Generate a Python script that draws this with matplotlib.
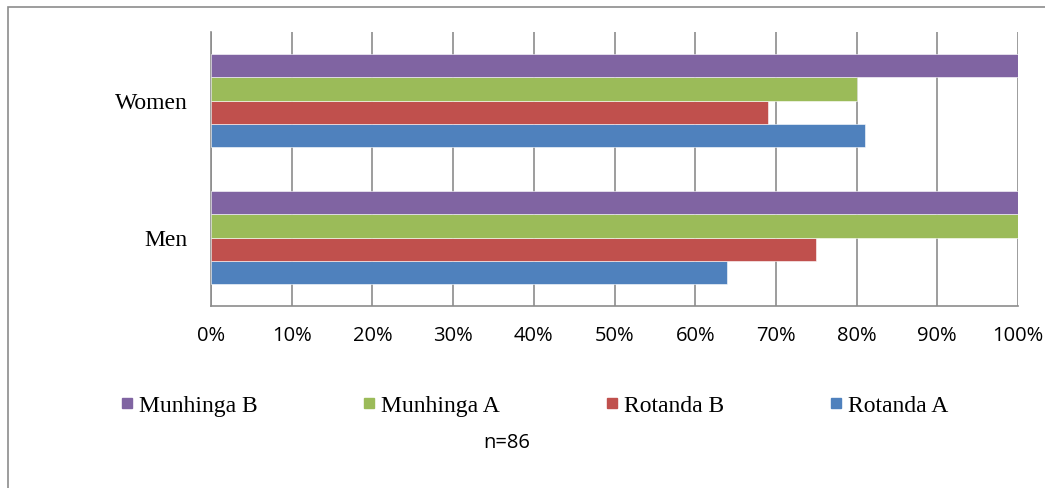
import matplotlib
matplotlib.use("Agg")
import matplotlib.pyplot as plt
from matplotlib.lines import Line2D
from matplotlib.patches import Rectangle
import numpy as np

# Data
categories = ["Men", "Women"]
series_names = ["Rotanda A", "Rotanda B", "Munhinga A", "Munhinga B"]
rotanda_a = [64, 81]
rotanda_b = [75, 69]
munhinga_a = [100, 80]
munhinga_b = [100, 100]
x_ticks = [0, 10, 20, 30, 40, 50, 60, 70, 80, 90, 100]
tick_labels = [f"{t}%" for t in x_ticks]
note = "n=86"

values = [rotanda_a, rotanda_b, munhinga_a, munhinga_b]
colors = ["#4F81BD", "#C0504D", "#9BBB59", "#8064A2"]

W, H = 1045, 489
fig = plt.figure(figsize=(W / 100, H / 100), dpi=100)
fig.patch.set_facecolor("white")

ax = fig.add_axes([211 / W, 1 - 307 / H, (1018 - 211) / W, (307 - 33) / H])

grid_color = "#8C8C8C"
n = len(series_names)
group_width = 0.686
bar_h = group_width / n
y = np.arange(len(categories))
for i, (name, vals, col) in enumerate(zip(series_names, values, colors)):
    offset = (i - (n - 1) / 2) * bar_h
    ax.barh(y + offset, vals, height=bar_h, color=col, edgecolor="white",
            linewidth=0.4, label=name, zorder=3)

ax.set_xlim(0, 100)
ax.set_ylim(-0.5, 1.5)
ax.set_xticks(x_ticks)
ax.set_xticklabels(tick_labels, fontsize=14.5, family="Open Sans")
ax.set_yticks(y)
ax.set_yticklabels(categories, fontsize=17, family="Liberation Serif")
ax.tick_params(axis="x", length=0, pad=14)
ax.tick_params(axis="y", length=0, pad=17)
ax.xaxis.grid(True, color=grid_color, linewidth=1.2, zorder=0)
for s in ["top", "right"]:
    ax.spines[s].set_visible(False)
for s in ["left", "bottom"]:
    ax.spines[s].set_color(grid_color)
    ax.spines[s].set_linewidth(1.2)

# Legend, drawn in the order Munhinga B, Munhinga A, Rotanda B, Rotanda A
handles = [Line2D([], [], marker="s", linestyle="none", markersize=7,
                  markerfacecolor=c, markeredgecolor=c)
           for c in colors[::-1]]
fig.legend(handles, series_names[::-1], loc="center left",
           bbox_to_anchor=(109 / W, 1 - 406 / H), ncol=4, frameon=False,
           prop={"family": "Liberation Serif", "size": 17},
           handlelength=0.5, handletextpad=0.25, columnspacing=4.5,
           borderpad=0)

fig.text(507 / W, 1 - 443 / H, note, ha="center", va="center",
         fontsize=14.5, family="Open Sans")

# Outer chart frame
fig.patches.append(Rectangle((8 / W, -0.1), 1.2, 1 - 8 / H + 0.1,
                             transform=fig.transFigure, fill=False,
                             edgecolor="#8C8C8C", linewidth=1.2))

fig.savefig("out.png", dpi=100, facecolor="white")
